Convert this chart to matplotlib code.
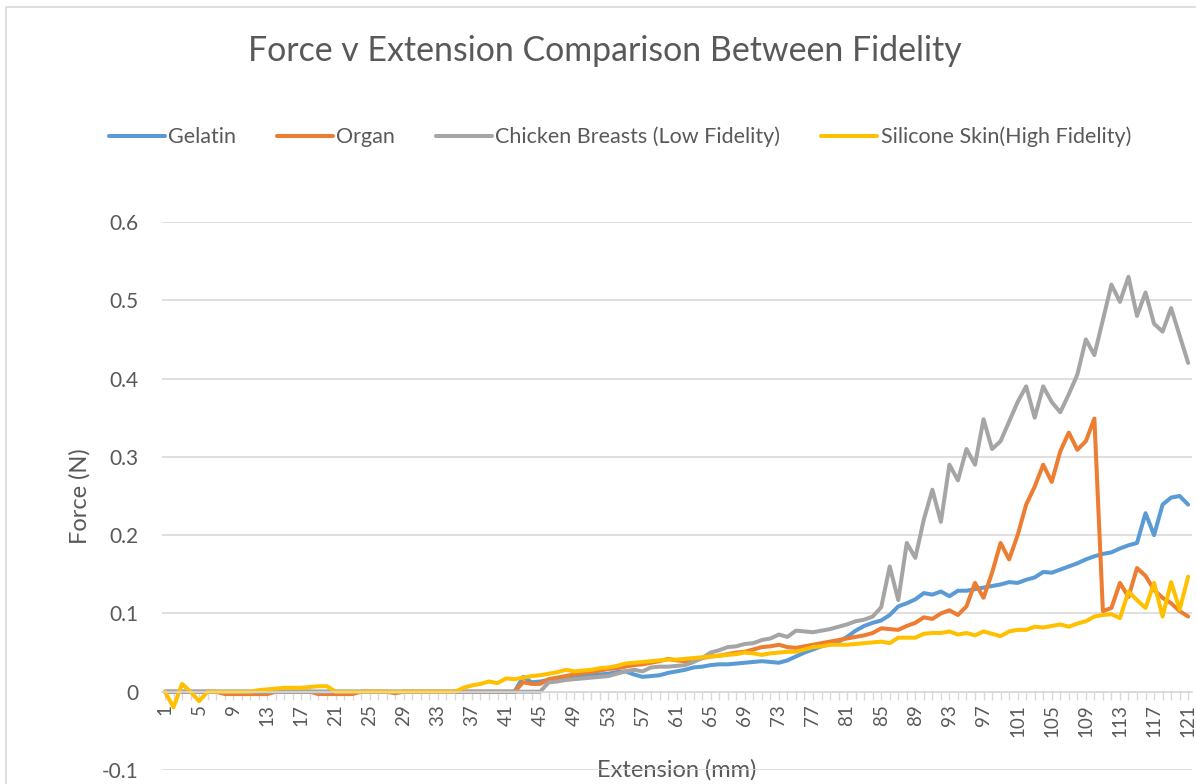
import numpy as np
import matplotlib
matplotlib.use("Agg")
import matplotlib.pyplot as plt
from matplotlib.patches import Rectangle

plt.rcParams['font.family'] = ['Lato', 'DejaVu Sans']

# extension in mm (category axis 1..121)
extension = np.arange(1, 122)

gelatin = [0.0] * 42 + [
    0.019, 0.012, 0.013, 0.015, 0.016, 0.018, 0.020, 0.020, 0.021, 0.022,   # 43-52
    0.023, 0.025, 0.026, 0.022, 0.019, 0.020, 0.021, 0.024, 0.026, 0.028,   # 53-62
    0.031, 0.032, 0.034, 0.035, 0.035, 0.036, 0.037, 0.038, 0.039, 0.038,   # 63-72
    0.037, 0.040, 0.045, 0.050, 0.054, 0.058, 0.061, 0.064, 0.070, 0.078,   # 73-82
    0.084, 0.088, 0.091, 0.098, 0.109, 0.113, 0.118, 0.126, 0.124, 0.128,   # 83-92
    0.122, 0.129, 0.129, 0.131, 0.133, 0.135, 0.137, 0.140, 0.139, 0.143,   # 93-102
    0.146, 0.153, 0.152, 0.156, 0.160, 0.164, 0.169, 0.173, 0.176, 0.178,   # 103-112
    0.183, 0.187, 0.190, 0.228, 0.200, 0.239, 0.248, 0.250, 0.239]          # 113-121

organ = [0.0] * 7 + [-0.003] * 6 + [0.0] * 5 + [-0.003] * 5 + [0.0] * 4 + [-0.002] + [0.0] * 14 + [
    0.012, 0.010, 0.010, 0.016, 0.018, 0.020, 0.022, 0.024, 0.025, 0.027,   # 43-52
    0.029, 0.030, 0.032, 0.034, 0.035, 0.037, 0.039, 0.042, 0.040, 0.039,   # 53-62
    0.041, 0.043, 0.045, 0.046, 0.048, 0.050, 0.051, 0.054, 0.057, 0.058,   # 63-72
    0.060, 0.057, 0.056, 0.058, 0.060, 0.062, 0.064, 0.066, 0.068, 0.070,   # 73-82
    0.072, 0.075, 0.081, 0.080, 0.079, 0.084, 0.088, 0.095, 0.093, 0.100,   # 83-92
    0.104, 0.098, 0.109, 0.139, 0.120, 0.152, 0.190, 0.169, 0.200, 0.239,   # 93-102
    0.262, 0.290, 0.268, 0.307, 0.331, 0.309, 0.320, 0.349, 0.103, 0.107,   # 103-112
    0.139, 0.121, 0.158, 0.148, 0.130, 0.120, 0.113, 0.103, 0.096]          # 113-121

chicken = [0.0] * 45 + [
    0.012, 0.013, 0.015, 0.016, 0.017, 0.018, 0.019,                        # 46-52
    0.020, 0.023, 0.026, 0.028, 0.026, 0.031, 0.032, 0.032, 0.033, 0.034,   # 53-62
    0.038, 0.043, 0.050, 0.053, 0.057, 0.058, 0.061, 0.062, 0.066, 0.068,   # 63-72
    0.073, 0.070, 0.078, 0.077, 0.076, 0.078, 0.080, 0.083, 0.086, 0.090,   # 73-82
    0.092, 0.096, 0.108, 0.160, 0.117, 0.190, 0.171, 0.220, 0.258, 0.217,   # 83-92
    0.290, 0.270, 0.310, 0.290, 0.348, 0.310, 0.320, 0.345, 0.370, 0.390,   # 93-102
    0.350, 0.390, 0.370, 0.357, 0.380, 0.405, 0.450, 0.430, 0.475, 0.520,   # 103-112
    0.498, 0.530, 0.480, 0.510, 0.470, 0.460, 0.490, 0.455, 0.420]          # 113-121

silicone = [
    0.000, -0.020, 0.010, 0.000, -0.012, 0.000, 0.000, 0.000, 0.000, 0.000, # 1-10
    0.000, 0.002, 0.003, 0.004, 0.005, 0.005, 0.005, 0.006, 0.007, 0.007,   # 11-20
    0.000, 0.000, 0.000, 0.000, 0.000, 0.000, 0.000, 0.000, 0.000, 0.000,   # 21-30
    0.000, 0.000, 0.000, 0.000, 0.000, 0.005, 0.008, 0.010, 0.013, 0.011,   # 31-40
    0.017, 0.016, 0.018, 0.020, 0.021, 0.023, 0.025, 0.028, 0.026, 0.027,   # 41-50
    0.028, 0.030, 0.031, 0.033, 0.036, 0.037, 0.038, 0.039, 0.040, 0.041,   # 51-60
    0.041, 0.042, 0.043, 0.044, 0.045, 0.046, 0.047, 0.048, 0.050, 0.049,   # 61-70
    0.047, 0.049, 0.050, 0.051, 0.051, 0.054, 0.057, 0.058, 0.060, 0.060,   # 71-80
    0.060, 0.061, 0.062, 0.063, 0.064, 0.062, 0.069, 0.069, 0.069, 0.074,   # 81-90
    0.075, 0.075, 0.077, 0.073, 0.075, 0.072, 0.077, 0.074, 0.071, 0.077,   # 91-100
    0.079, 0.079, 0.083, 0.082, 0.084, 0.086, 0.083, 0.087, 0.090, 0.096,   # 101-110
    0.098, 0.099, 0.094, 0.128, 0.117, 0.107, 0.139, 0.096, 0.140, 0.105,   # 111-120
    0.147]                                                                  # 121

series = [
    ("Gelatin", gelatin, "#5B9BD5"),
    ("Organ", organ, "#ED7D31"),
    ("Chicken Breasts (Low Fidelity)", chicken, "#A5A5A5"),
    ("Silicone Skin(High Fidelity)", silicone, "#FFC000"),
]

txt = "#595959"
grid = "#D9D9D9"

fig = plt.figure(figsize=(11.96, 7.84), dpi=100)
# outer chart border
fig.patches.append(Rectangle((6 / 1196, -0.1), 1.2, 1.1 - 7 / 784, transform=fig.transFigure,
                             fill=False, edgecolor=grid, linewidth=1.2))

ax = fig.add_axes([162 / 1196, 14 / 784, 1030 / 1196, 548 / 784])

for name, vals, col in series:
    ax.plot(extension, vals, color=col, lw=2.9, label=name,
            solid_capstyle="round", solid_joinstyle="round")

ax.set_xlim(0.65, 121.45)
ax.set_ylim(-0.1, 0.6)
ax.set_yticks(np.arange(-0.1, 0.61, 0.1))
ax.set_yticklabels(["-0.1", "0", "0.1", "0.2", "0.3", "0.4", "0.5", "0.6"])
ax.grid(axis="y", color=grid, lw=1.2)
ax.set_axisbelow(True)

for s in ["top", "right", "left"]:
    ax.spines[s].set_visible(False)
ax.spines["bottom"].set_position(("data", 0))
ax.spines["bottom"].set_color(grid)
ax.spines["bottom"].set_linewidth(1.2)

ax.set_xticks(extension[::4])
ax.set_xticklabels([str(v) for v in extension[::4]], rotation=90)
ax.set_xticks(extension, minor=True)
ax.tick_params(axis="x", which="both", length=6, width=1, color=grid, labelsize=13.5,
               labelcolor=txt, pad=3)
ax.tick_params(axis="y", length=0, labelsize=15, labelcolor=txt, pad=17)

ax.set_ylabel("Force (N)", fontsize=17, color=txt)
ax.yaxis.set_label_coords(-0.08, 0.5)
ax.yaxis.label.set_va("center")
ax.set_xlabel("Extension (mm)", fontsize=17, color=txt)
ax.xaxis.set_label_coords(0.5, 0.0)
ax.xaxis.label.set_va("center")

fig.text(605 / 1196, 1 - 51 / 784, "Force v Extension Comparison Between Fidelity",
         ha="center", va="center", fontsize=24.4, color=txt)

fig.legend(loc="center", bbox_to_anchor=(620 / 1196, 1 - 137 / 784), ncol=4, frameon=False,
           fontsize=15.5, labelcolor=txt, handlelength=2.6, handletextpad=0.15, columnspacing=1.9)

plt.savefig("out.png", dpi=100)
